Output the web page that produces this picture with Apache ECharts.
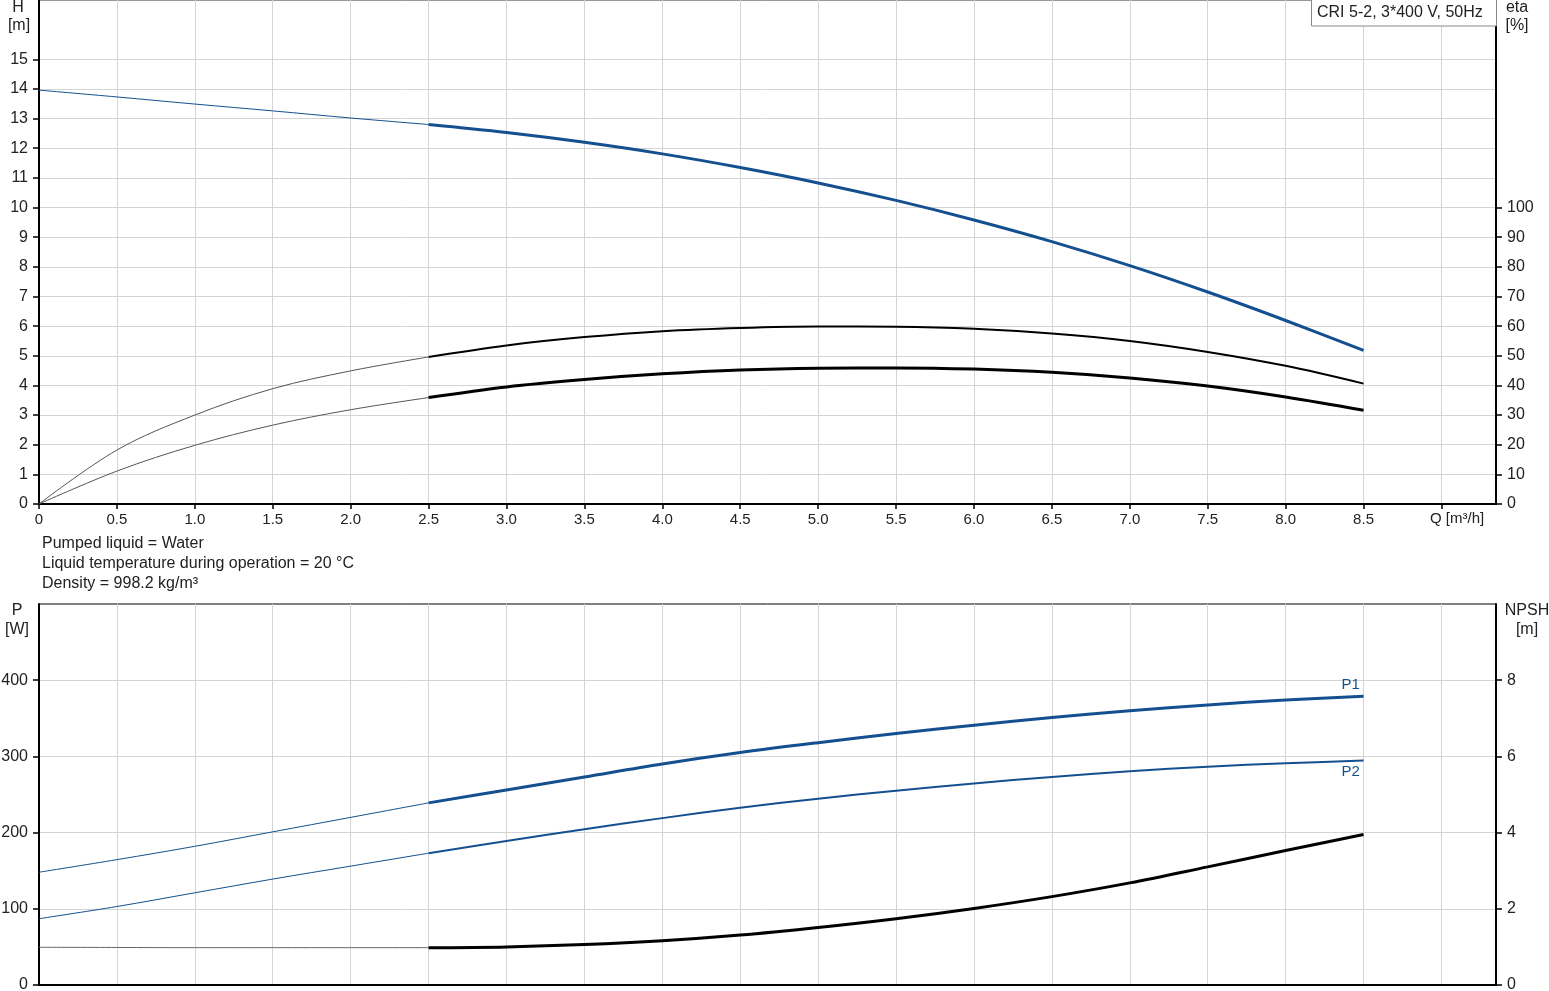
<!DOCTYPE html>
<html>
<head>
<meta charset="utf-8">
<script src="https://cdn.jsdelivr.net/npm/echarts@6/dist/echarts.min.js"></script>
<style>
  html, body { margin: 0; padding: 0; background: #fff; }
  #chart { width: 1549px; height: 991px; }
</style>
</head>
<body>
<div id="chart"></div>
<script>
// ---- Data ----
const qThin = [0, 0.5, 1.0, 1.5, 2.0, 2.5];
const qMain = [2.5, 3.0, 3.5, 4.0, 4.5, 5.0, 5.5, 6.0, 6.5, 7.0, 7.5, 8.0, 8.5];

const hThin = [13.96, 13.73, 13.49, 13.26, 13.02, 12.80];
const hMain = [12.80, 12.53, 12.20, 11.81, 11.35, 10.83, 10.24, 9.58, 8.85, 8.04, 7.15, 6.19, 5.18];

const eta1Thin = [0, 18.2, 30.0, 38.9, 44.9, 49.6];
const eta1Main = [49.6, 53.5, 56.3, 58.3, 59.4, 59.9, 59.8, 59.1, 57.5, 55.0, 51.3, 46.6, 40.6];

const eta2Thin = [0, 11.1, 19.8, 26.6, 31.8, 35.9];
const eta2Main = [35.9, 39.5, 42.0, 43.9, 45.2, 45.8, 45.9, 45.5, 44.4, 42.5, 39.8, 36.1, 31.6];

const p1Thin = [148, 164.5, 182, 201, 220, 239];
const p1Main = [239, 256, 273, 290, 305, 318, 330, 341, 351, 360, 367.5, 374, 379];

const p2Thin = [87, 103, 121, 139, 156, 173];
const p2Main = [173, 189, 204.5, 219, 232.5, 244.5, 255, 264.5, 273, 280.5, 286.5, 291, 294.5];

const npshThin = [0.99, 0.985, 0.98, 0.98, 0.98, 0.98];
const npshMain = [0.98, 1.0, 1.06, 1.16, 1.31, 1.51, 1.74, 2.01, 2.32, 2.68, 3.10, 3.53, 3.95];

const qLabels = [0, 0.5, 1.0, 1.5, 2.0, 2.5, 3.0, 3.5, 4.0, 4.5, 5.0, 5.5, 6.0, 6.5, 7.0, 7.5, 8.0, 8.5];
const qTicks = [0, 0.5, 1.0, 1.5, 2.0, 2.5, 3.0, 3.5, 4.0, 4.5, 5.0, 5.5, 6.0, 6.5, 7.0, 7.5, 8.0, 8.5, 9.0];
const hLabels = [0, 1, 2, 3, 4, 5, 6, 7, 8, 9, 10, 11, 12, 13, 14, 15];
const etaLabels = [0, 10, 20, 30, 40, 50, 60, 70, 80, 90, 100];
const pLabels = [0, 100, 200, 300, 400];
const npshLabels = [0, 2, 4, 6, 8];

const titleText = 'CRI 5-2, 3*400 V, 50Hz';
const infoLines = ['Pumped liquid = Water', 'Liquid temperature during operation = 20 °C', 'Density = 998.2 kg/m³'];

// ---- Styling ----
const BLUE = '#14508f';
const FONT = '"Liberation Sans", Arial, sans-serif';
const TXT = '#222';
const GRIDC = '#d4d4d4';

function pairs(xs, ys) { return xs.map((x, i) => [x, ys[i]]); }

function line(name, xs, ys, color, width, xi, yi, extra) {
  return Object.assign({
    name, type: 'line', xAxisIndex: xi, yAxisIndex: yi,
    data: pairs(xs, ys), smooth: 0.35, symbol: 'none',
    lineStyle: { color, width }, silent: true, z: 3
  }, extra || {});
}

const xAxisBase = {
  type: 'value', min: 0, max: 9.35, interval: 0.5,
  axisLine: { show: true, onZero: false, lineStyle: { color: '#000', width: 2 } },
  splitLine: { show: true, lineStyle: { color: GRIDC, width: 1 } }
};

const yAxisLeftBase = {
  type: 'value', position: 'left',
  axisLine: { show: true, lineStyle: { color: '#000', width: 2 } },
  axisTick: { show: true, length: 6, lineStyle: { color: '#000', width: 1.5 } },
  axisLabel: { color: TXT, fontSize: 16, fontFamily: FONT, margin: 11 },
  splitLine: { show: true, lineStyle: { color: GRIDC, width: 1 } }
};
const yAxisRightBase = {
  type: 'value', position: 'right',
  axisLine: { show: true, lineStyle: { color: '#000', width: 2 } },
  axisTick: { show: true, length: 6, lineStyle: { color: '#000', width: 1.5 } },
  axisLabel: { color: TXT, fontSize: 16, fontFamily: FONT, margin: 11 },
  splitLine: { show: false }
};

const option = {
  animation: false,
  backgroundColor: '#fff',
  grid: [
    { left: 39, right: 53, top: 0, height: 504, show: true, borderColor: '#333', borderWidth: 1, outerBoundsMode: 'none', containLabel: false },
    { left: 39, right: 53, top: 604, height: 381, show: true, borderColor: '#000', borderWidth: 1, outerBoundsMode: 'none', containLabel: false }
  ],
  xAxis: [
    Object.assign({}, xAxisBase, {
      gridIndex: 0,
      axisTick: { show: true, length: 5, customValues: qTicks, lineStyle: { color: '#000', width: 1.5 } },
      axisLabel: {
        show: true, customValues: qLabels, color: TXT, fontSize: 15, fontFamily: FONT, margin: 8,
        formatter: v => v === 0 ? '0' : v.toFixed(1)
      }
    }),
    Object.assign({}, xAxisBase, {
      gridIndex: 1,
      axisTick: { show: false },
      axisLabel: { show: false }
    })
  ],
  yAxis: [
    Object.assign({}, yAxisLeftBase, {
      gridIndex: 0, min: 0, max: 17, interval: 1,
      axisTick: Object.assign({}, yAxisLeftBase.axisTick, { customValues: hLabels }),
      axisLabel: Object.assign({}, yAxisLeftBase.axisLabel, { customValues: hLabels })
    }),
    Object.assign({}, yAxisRightBase, {
      gridIndex: 0, min: 0, max: 170, interval: 10,
      axisTick: Object.assign({}, yAxisRightBase.axisTick, { customValues: etaLabels }),
      axisLabel: Object.assign({}, yAxisRightBase.axisLabel, { customValues: etaLabels })
    }),
    Object.assign({}, yAxisLeftBase, {
      gridIndex: 1, min: 0, max: 500, interval: 100,
      axisTick: Object.assign({}, yAxisLeftBase.axisTick, { customValues: pLabels }),
      axisLabel: Object.assign({}, yAxisLeftBase.axisLabel, { customValues: pLabels })
    }),
    Object.assign({}, yAxisRightBase, {
      gridIndex: 1, min: 0, max: 10, interval: 2,
      axisTick: Object.assign({}, yAxisRightBase.axisTick, { customValues: npshLabels }),
      axisLabel: Object.assign({}, yAxisRightBase.axisLabel, { customValues: npshLabels })
    })
  ],
  series: [
    line('H thin', qThin, hThin, BLUE, 1, 0, 0),
    line('H', qMain, hMain, BLUE, 3, 0, 0),
    line('eta1 thin', qThin, eta1Thin, '#555', 1, 0, 1),
    line('eta1', qMain, eta1Main, '#000', 2, 0, 1),
    line('eta2 thin', qThin, eta2Thin, '#555', 1, 0, 1),
    line('eta2', qMain, eta2Main, '#000', 3, 0, 1),
    line('P1 thin', qThin, p1Thin, BLUE, 1, 1, 2),
    line('P1', qMain, p1Main, BLUE, 3, 1, 2, {
      endLabel: { show: true, formatter: 'P1', distance: 0, align: 'left', verticalAlign: 'middle', offset: [-22, -11], color: BLUE, fontSize: 15, fontFamily: FONT }
    }),
    line('P2 thin', qThin, p2Thin, BLUE, 1, 1, 2),
    line('P2', qMain, p2Main, BLUE, 2, 1, 2, {
      endLabel: { show: true, formatter: 'P2', distance: 0, align: 'left', verticalAlign: 'middle', offset: [-22, 11], color: BLUE, fontSize: 15, fontFamily: FONT }
    }),
    line('NPSH thin', qThin, npshThin, '#666', 1, 1, 3),
    line('NPSH', qMain, npshMain, '#000', 3, 1, 3)
  ],
  graphic: [
    { type: 'text', x: 18, y: 8, style: { text: 'H', font: '16px ' + FONT, fill: TXT, textAlign: 'center', textVerticalAlign: 'middle' } },
    { type: 'text', x: 19, y: 26, style: { text: '[m]', font: '16px ' + FONT, fill: TXT, textAlign: 'center', textVerticalAlign: 'middle' } },
    { type: 'text', x: 1517, y: 8, style: { text: 'eta', font: '16px ' + FONT, fill: TXT, textAlign: 'center', textVerticalAlign: 'middle' } },
    { type: 'text', x: 1517, y: 26, style: { text: '[%]', font: '16px ' + FONT, fill: TXT, textAlign: 'center', textVerticalAlign: 'middle' } },
    { type: 'text', x: 17, y: 611, style: { text: 'P', font: '16px ' + FONT, fill: TXT, textAlign: 'center', textVerticalAlign: 'middle' } },
    { type: 'text', x: 17, y: 630, style: { text: '[W]', font: '16px ' + FONT, fill: TXT, textAlign: 'center', textVerticalAlign: 'middle' } },
    { type: 'text', x: 1527, y: 611, style: { text: 'NPSH', font: '16px ' + FONT, fill: TXT, textAlign: 'center', textVerticalAlign: 'middle' } },
    { type: 'text', x: 1527, y: 630, style: { text: '[m]', font: '16px ' + FONT, fill: TXT, textAlign: 'center', textVerticalAlign: 'middle' } },
    { type: 'text', x: 1430, y: 519, style: { text: 'Q [m³/h]', font: '15px ' + FONT, fill: TXT, textAlign: 'left', textVerticalAlign: 'middle' } },
    { type: 'rect', shape: { x: 1311.5, y: -1, width: 185, height: 27 }, style: { fill: '#fff', stroke: '#888', lineWidth: 1 }, z: 10 },
    { type: 'text', x: 1317, y: 13, z: 11, style: { text: titleText, font: '16px ' + FONT, fill: TXT, textAlign: 'left', textVerticalAlign: 'middle' } },
    { type: 'text', x: 42, y: 544, style: { text: infoLines[0], font: '16px ' + FONT, fill: TXT, textAlign: 'left', textVerticalAlign: 'middle' } },
    { type: 'text', x: 42, y: 564, style: { text: infoLines[1], font: '16px ' + FONT, fill: TXT, textAlign: 'left', textVerticalAlign: 'middle' } },
    { type: 'text', x: 42, y: 584, style: { text: infoLines[2], font: '16px ' + FONT, fill: TXT, textAlign: 'left', textVerticalAlign: 'middle' } }
  ]
};

const chart = echarts.init(document.getElementById('chart'), null, { renderer: 'canvas' });
chart.setOption(option);
</script>
</body>
</html>
